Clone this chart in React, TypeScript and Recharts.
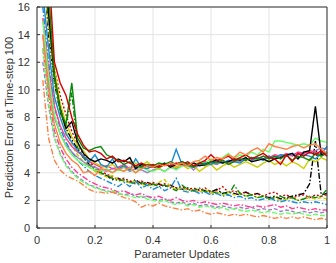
import { LineChart, Line, XAxis, YAxis, CartesianGrid, ReferenceLine } from 'recharts';

// parameter updates (normalised), one sample every 0.02
const xs = [
  0.02, 0.04, 0.06, 0.08, 0.1, 0.12, 0.14, 0.16, 0.18, 0.2,
  0.22, 0.24, 0.26, 0.28, 0.3, 0.32, 0.34, 0.36, 0.38, 0.4,
  0.42, 0.44, 0.46, 0.48, 0.5, 0.52, 0.54, 0.56, 0.58, 0.6,
  0.62, 0.64, 0.66, 0.68, 0.7, 0.72, 0.74, 0.76, 0.78, 0.8,
  0.82, 0.84, 0.86, 0.88, 0.9, 0.92, 0.94, 0.96, 0.98, 1,
];

const xTicks = [0, 0.2, 0.4, 0.6, 0.8, 1];
const yTicks = [0, 2, 4, 6, 8, 10, 12, 14, 16];

// solid lines (upper group)
const redS = [
  24, 19, 12, 10.5, 9.6, 8.0, 6.8, 6.0, 5.5, 5.6,
  5.4, 5.0, 5.2, 4.8, 4.9, 4.7, 4.5, 4.7, 4.5, 4.6,
  4.4, 4.6, 4.5, 4.7, 4.6, 4.8, 4.5, 4.7, 4.9, 5.3,
  4.9, 5.0, 5.2, 4.9, 5.1, 5.3, 5.0, 5.2, 5.4, 5.1,
  5.0, 4.6, 5.3, 4.8, 5.4, 5.2, 5.5, 5.3, 5.6, 5.2,
];
const greenS = [
  22, 17, 11, 8.5, 7.5, 10.5, 6.5, 5.8, 5.6, 5.8,
  5.9, 5.3, 5.1, 4.9, 4.6, 4.8, 4.5, 4.4, 4.6, 4.5,
  4.7, 4.6, 4.8, 4.6, 4.8, 4.6, 4.4, 4.7, 4.6, 4.8,
  4.7, 4.9, 4.6, 4.8, 5.0, 4.9, 5.1, 5.0, 5.2, 5.0,
  5.2, 5.0, 5.3, 4.9, 5.2, 5.1, 4.9, 5.4, 5.2, 5.4,
];
const blackS = [
  20, 15.5, 11, 8.6, 7.2, 7.7, 6.2, 5.4, 5.0, 4.8,
  5.0, 4.9, 4.7, 5.0, 4.8, 5.1, 4.3, 4.6, 4.5, 4.4,
  4.5, 4.7, 4.4, 4.6, 4.8, 4.6, 4.7, 4.5, 4.6, 4.8,
  4.9, 4.7, 4.8, 5.0, 4.9, 5.1, 4.8, 4.9, 5.0, 4.8,
  5.0, 5.1, 5.3, 5.4, 5.0, 5.5, 5.6, 8.8, 5.3, 5.5,
];
const blueS = [
  17, 13, 9.5, 8.0, 6.8, 6.2, 5.6, 5.2, 4.8, 5.3,
  4.6, 4.4, 5.0, 4.3, 4.5, 4.2, 5.0, 4.4, 4.3, 4.5,
  4.4, 4.6, 4.5, 5.7, 4.6, 4.5, 4.4, 4.6, 4.7, 4.6,
  4.8, 4.7, 4.9, 4.8, 4.7, 5.0, 4.9, 5.1, 4.9, 5.2,
  5.0, 5.3, 5.2, 5.4, 5.1, 5.3, 5.2, 5.0, 5.4, 5.9,
];
const yellowS = [
  21, 16.5, 11.5, 9.0, 7.6, 6.6, 6.0, 5.6, 5.0, 4.7,
  4.5, 4.4, 4.6, 4.3, 4.4, 4.2, 4.7, 4.5, 4.8, 4.4,
  4.3, 4.6, 4.5, 4.4, 4.6, 4.3, 4.5, 4.1, 4.4, 4.6,
  4.2, 4.5, 4.7, 4.4, 4.6, 4.8, 4.6, 4.4, 4.7, 4.9,
  4.6, 4.8, 4.5, 4.8, 4.6, 4.3, 5.0, 4.8, 5.1, 4.9,
];
const orangeS = [
  14, 10, 7.5, 6.2, 5.4, 4.9, 4.6, 4.0, 4.1, 3.8,
  4.3, 4.2, 4.0, 4.3, 4.1, 4.4, 4.0, 4.3, 4.5, 4.4,
  4.6, 4.5, 4.7, 4.6, 4.7, 4.5, 4.8, 4.9, 5.2, 4.9,
  5.1, 5.0, 5.3, 5.1, 5.5, 5.3, 5.6, 5.8, 5.5, 6.1,
  5.9, 5.8, 5.7, 5.9, 6.0, 5.8, 6.0, 6.1, 5.7, 5.4,
];
const lgreenS = [
  15, 11, 8.2, 6.8, 5.9, 5.3, 4.9, 4.6, 4.4, 4.2,
  4.1, 4.3, 4.0, 4.2, 4.1, 4.3, 4.0, 4.4, 4.2, 4.1,
  4.3, 4.1, 4.4, 4.2, 4.5, 4.7, 4.5, 4.8, 4.7, 5.0,
  4.9, 5.1, 5.4, 5.0, 5.3, 5.2, 5.5, 5.3, 5.7, 5.5,
  6.3, 6.3, 6.2, 6.1, 6.0, 6.1, 6.0, 6.5, 6.3, 6.2,
];
const pinkS = [
  15.2, 11.5, 8.8, 7.4, 6.5, 5.9, 5.5, 5.2, 4.8, 4.6,
  4.4, 4.5, 4.3, 4.4, 4.6, 4.3, 4.5, 4.4, 4.3, 4.5,
  4.4, 4.6, 4.5, 4.4, 4.6, 4.5, 4.7, 4.6, 4.8, 4.7,
  4.8, 4.9, 4.7, 4.9, 5.0, 4.9, 5.1, 5.0, 5.2, 5.1,
  5.3, 5.2, 5.4, 5.2, 5.5, 5.4, 5.6, 5.5, 5.3, 5.5,
];
const purpleS = [
  14, 10.5, 8.0, 6.8, 6.0, 5.5, 5.1, 4.8, 4.5, 4.4,
  4.2, 4.1, 4.3, 4.2, 4.4, 4.1, 4.3, 4.2, 4.0, 4.2,
  4.3, 4.1, 4.4, 4.3, 4.5, 4.6, 4.2, 4.6, 4.5, 4.7,
  4.6, 4.8, 4.7, 4.9, 4.8, 5.0, 4.9, 5.1, 5.0, 5.2,
  5.1, 5.3, 5.2, 5.4, 5.3, 5.5, 5.4, 5.6, 5.8, 5.7,
];

// dashed lines (lower group)
const blackD = [
  20, 14, 10.5, 8.4, 7.2, 6.4, 5.7, 5.1, 4.6, 4.2,
  4.0, 3.8, 3.5, 3.6, 3.4, 3.3, 3.5, 3.2, 3.3, 3.1,
  3.2, 3.0, 3.1, 2.9, 2.8, 2.9, 2.7, 2.8, 2.7, 2.6,
  2.8, 2.5, 2.6, 2.5, 2.4, 2.6, 2.4, 2.5, 2.3, 2.2,
  2.3, 2.1, 2.2, 2.3, 2.4, 2.5, 3.2, 6.3, 2.4, 2.5,
];
const redD = [
  22, 16.5, 11.5, 9.6, 8.2, 7.0, 6.1, 5.3, 4.8, 4.4,
  4.1, 3.9, 3.7, 3.5, 3.6, 3.4, 3.3, 3.4, 3.2, 3.3,
  3.1, 3.2, 3.0, 2.9, 3.0, 2.8, 2.9, 2.7, 2.9, 2.6,
  2.7, 3.0, 2.6, 2.7, 2.5, 2.6, 2.4, 2.5, 2.3, 2.5,
  2.6, 2.3, 2.4, 2.2, 2.3, 2.4, 2.2, 2.4, 2.3, 2.4,
];
const yellowD = [
  19, 14.5, 10.5, 8.5, 7.0, 6.0, 5.3, 4.8, 4.4, 4.1,
  3.9, 3.7, 3.8, 3.5, 3.4, 3.3, 3.4, 3.1, 3.2, 3.0,
  3.3, 3.5, 3.0, 2.8, 2.9, 2.7, 2.8, 2.6, 2.8, 2.5,
  2.6, 2.4, 2.6, 2.4, 2.5, 2.3, 2.4, 2.2, 2.3, 2.1,
  2.2, 2.0, 2.1, 2.2, 2.0, 2.1, 2.2, 2.1, 2.2, 2.1,
];
const greenD = [
  21, 15.5, 11, 8.8, 7.4, 9.8, 5.8, 5.1, 4.6, 4.3,
  4.0, 3.8, 3.6, 3.4, 3.5, 3.3, 3.2, 3.3, 3.1, 3.2,
  3.0, 3.1, 2.9, 2.7, 3.1, 2.8, 2.7, 2.9, 2.6, 2.7,
  2.5, 2.6, 2.4, 3.1, 2.5, 2.3, 2.4, 2.2, 2.3, 2.1,
  2.2, 2.3, 2.1, 2.2, 2.0, 2.1, 2.3, 2.2, 2.3, 2.8,
];
const blueD = [
  16, 12, 8.8, 7.2, 6.2, 5.5, 4.9, 4.5, 4.1, 3.8,
  3.6, 3.4, 3.2, 3.0, 3.3, 3.0, 3.4, 2.9, 3.1, 2.8,
  3.0, 2.7, 2.9, 3.6, 2.7, 2.6, 2.7, 2.5, 2.6, 2.4,
  2.5, 2.3, 2.4, 2.2, 2.3, 2.1, 2.2, 2.0, 2.1, 2.2,
  2.0, 1.9, 2.0, 1.9, 1.8, 1.9, 1.8, 1.9, 1.8, 1.7,
];
const pinkD = [
  13, 9.5, 7.0, 5.8, 5.0, 4.4, 4.0, 3.7, 3.4, 3.2,
  3.0, 2.9, 2.8, 2.6, 2.7, 2.5, 2.4, 2.5, 2.3, 2.2,
  2.3, 2.1, 2.0, 2.2, 2.0, 1.9, 2.0, 1.8, 1.9, 1.8,
  1.7, 1.8, 1.7, 1.6, 1.7, 1.6, 1.5, 1.6, 1.5, 1.6,
  1.7, 1.5, 1.6, 1.4, 1.5, 1.4, 1.3, 1.4, 1.3, 1.3,
];
const purpleD = [
  12, 8.8, 6.5, 5.4, 4.6, 4.1, 3.7, 3.4, 3.1, 3.0,
  2.8, 2.7, 2.6, 2.5, 2.4, 2.5, 2.3, 2.2, 2.3, 2.1,
  2.0, 2.1, 1.9, 1.8, 1.9, 1.7, 1.8, 1.6, 1.7, 1.6,
  1.5, 1.6, 1.5, 1.4, 1.5, 1.4, 1.5, 1.3, 1.4, 1.3,
  1.4, 1.2, 1.3, 1.2, 1.1, 1.2, 1.1, 1.2, 1.1, 1.2,
];
const lgreenD = [
  13, 9.0, 6.6, 5.3, 4.5, 4.0, 3.6, 3.3, 3.1, 2.9,
  2.8, 2.6, 2.7, 2.5, 2.4, 2.3, 2.2, 2.3, 2.1, 2.0,
  1.9, 2.0, 1.8, 1.7, 1.8, 1.6, 1.7, 1.5, 1.6, 1.5,
  1.4, 1.5, 1.3, 1.4, 1.3, 1.2, 1.3, 1.2, 1.1, 1.2,
  1.1, 1.0, 1.1, 1.0, 1.1, 1.0, 0.9, 1.0, 0.9, 0.9,
];
const orangeD = [
  10.7, 6.5, 4.9, 4.2, 3.8, 3.6, 3.4, 3.1, 2.8, 2.6,
  2.6, 2.5, 2.6, 2.4, 2.2, 2.1, 1.9, 1.5, 1.7, 1.6,
  1.8, 1.6, 1.5, 1.4, 1.3, 1.4, 1.2, 1.3, 1.1, 1.0,
  1.1, 1.0, 0.9, 1.0, 0.9, 1.0, 0.9, 0.8, 0.9, 0.8,
  0.7, 0.8, 0.7, 0.8, 0.7, 0.8, 0.7, 0.6, 0.7, 0.6,
];

const DASHDOT = '6 2 1.5 2';

const series = [
  { key: 'blackD', values: blackD, color: '#000000', dash: DASHDOT },
  { key: 'redD', values: redD, color: '#d40000', dash: '2 2' },
  { key: 'yellowD', values: yellowD, color: '#cccc00', dash: '4 2' },
  { key: 'greenD', values: greenD, color: '#0a870a', dash: DASHDOT },
  { key: 'blueD', values: blueD, color: '#1a8ad4', dash: DASHDOT },
  { key: 'pinkD', values: pinkD, color: '#ff3b8e', dash: DASHDOT },
  { key: 'purpleD', values: purpleD, color: '#a07cc4', dash: '4 2' },
  { key: 'lgreenD', values: lgreenD, color: '#66ff66', dash: '5 2' },
  { key: 'orangeD', values: orangeD, color: '#ff8040', dash: DASHDOT },
  { key: 'purpleS', values: purpleS, color: '#a07cc4' },
  { key: 'pinkS', values: pinkS, color: '#ff3b8e' },
  { key: 'lgreenS', values: lgreenS, color: '#66ff66' },
  { key: 'yellowS', values: yellowS, color: '#cccc00' },
  { key: 'blueS', values: blueS, color: '#1a8ad4' },
  { key: 'blackS', values: blackS, color: '#000000' },
  { key: 'greenS', values: greenS, color: '#0a870a' },
  { key: 'redS', values: redS, color: '#d40000' },
  { key: 'orangeS', values: orangeS, color: '#ff8040' },
];

const data = xs.map((x, i) => {
  const row: Record<string, number> = { x };
  series.forEach((s) => {
    row[s.key] = s.values[i];
  });
  return row;
});

const FONT = '"Liberation Sans", Arial, Helvetica, sans-serif';
const tickStyle = { fontSize: 11, fill: '#333333', fontFamily: FONT };

export default function App() {
  return (
    <div style={{ width: 336, height: 263, background: '#fff' }}>
      <style>{'body{margin:0}'}</style>
      <LineChart
        width={336}
        height={263}
        data={data}
        margin={{ top: 7, right: 9, left: 0, bottom: 0 }}
      >
        <CartesianGrid stroke="#e3e3e3" strokeWidth={1} />
        <XAxis
          dataKey="x"
          type="number"
          domain={[0, 1]}
          ticks={xTicks}
          height={35}
          stroke="#333333"
          tickLine={{ stroke: '#333333' }}
          tickSize={-3}
          tickMargin={11}
          tick={tickStyle}
          label={{
            value: 'Parameter Updates',
            position: 'insideBottom',
            offset: 5,
            style: { fontSize: 11, fill: '#333333', fontFamily: FONT },
          }}
        />
        <YAxis
          type="number"
          domain={[0, 16]}
          ticks={yTicks}
          allowDataOverflow
          width={37}
          stroke="#333333"
          tickLine={{ stroke: '#333333' }}
          tickSize={-3}
          tickMargin={10}
          tick={tickStyle}
          label={{
            value: 'Prediction Error at Time-step 100',
            angle: -90,
            position: 'insideLeft',
            offset: 9,
            textAnchor: 'middle',
            style: { fontSize: 11, fill: '#333333', fontFamily: FONT, textAnchor: 'middle' },
          }}
        />
        {series.map((s) => (
          <Line
            key={s.key}
            dataKey={s.key}
            type="linear"
            stroke={s.color}
            strokeWidth={1.4}
            strokeDasharray={s.dash}
            dot={false}
            activeDot={false}
            isAnimationActive={false}
          />
        ))}
        <ReferenceLine y={16} stroke="#333333" strokeWidth={1} />
        <ReferenceLine x={1} stroke="#333333" strokeWidth={1} />
      </LineChart>
    </div>
  );
}
